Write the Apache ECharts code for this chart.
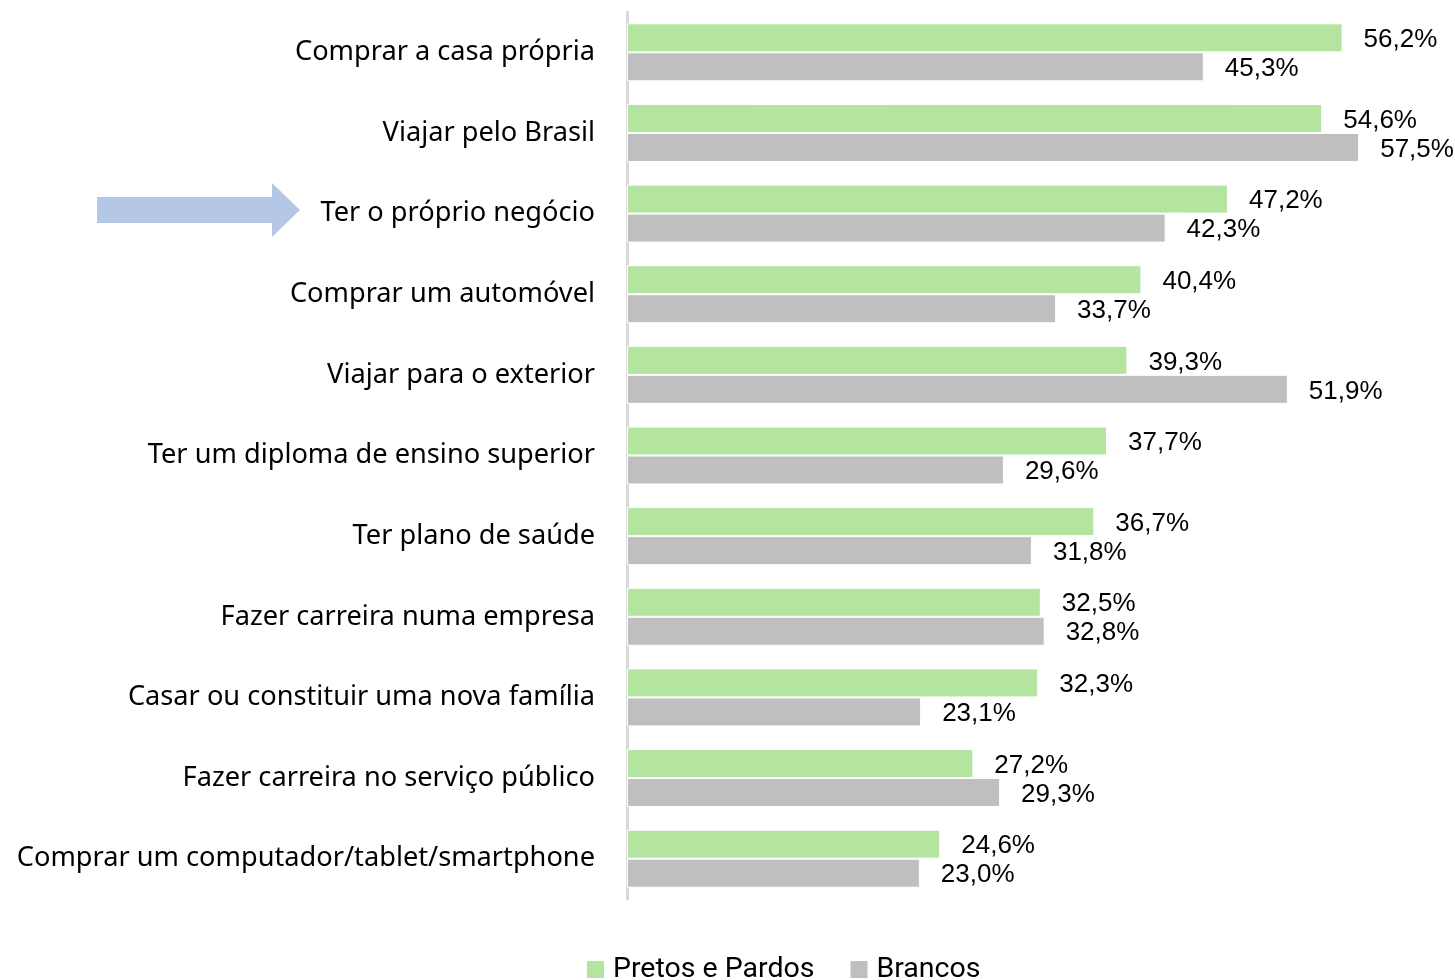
<!DOCTYPE html>
<html>
<head>
<meta charset="utf-8">
<script src="https://cdn.jsdelivr.net/npm/echarts@6/dist/echarts.min.js"></script>
<style>
  html, body { margin: 0; padding: 0; background: #fff; }
  #chart { width: 1455px; height: 980px; }
</style>
</head>
<body>
<div id="chart"></div>
<script>
// categories from top to bottom
var categories = [
  "Comprar a casa própria",
  "Viajar pelo Brasil",
  "Ter o próprio negócio",
  "Comprar um automóvel",
  "Viajar para o exterior",
  "Ter um diploma de ensino superior",
  "Ter plano de saúde",
  "Fazer carreira numa empresa",
  "Casar ou constituir uma nova família",
  "Fazer carreira no serviço público",
  "Comprar um computador/tablet/smartphone"
];
var pretosPardos = [56.2, 54.6, 47.2, 40.4, 39.3, 37.7, 36.7, 32.5, 32.3, 27.2, 24.6];
var brancos = [45.3, 57.5, 42.3, 33.7, 51.9, 29.6, 31.8, 32.8, 23.1, 29.3, 23.0];
var seriesNames = ["Pretos e Pardos", "Brancos"];

var chart = echarts.init(document.getElementById("chart"));

function fmt(p) {
  return p.value.toFixed(1).replace(".", ",") + "%";
}

var labelStyle = {
  show: true,
  position: "right",
  distance: 21,
  offset: [0, 2],
  formatter: fmt,
  color: "#000",
  fontSize: 26,
  fontFamily: "Liberation Sans, Arial, sans-serif"
};

chart.setOption({
  animation: false,
  grid: { left: 627, right: 64, top: 12, bottom: 81, containLabel: false },
  legend: {
    data: seriesNames,
    bottom: -9,
    left: 580,
    itemWidth: 19,
    itemHeight: 19,
    itemGap: 34,
    icon: "rect",
    textStyle: { fontSize: 28.5, color: "#000", fontFamily: "Roboto, sans-serif", padding: [0, 0, 0, 3] }
  },
  xAxis: {
    type: "value",
    min: 0,
    max: 60,
    show: false
  },
  yAxis: {
    type: "category",
    inverse: true,
    data: categories,
    axisLine: { show: true, lineStyle: { color: "#d9d9d9", width: 3 } },
    axisTick: { show: false },
    axisLabel: {
      margin: 32,
      color: "#000",
      fontSize: 27.2,
      fontFamily: "Noto Sans, sans-serif"
    }
  },
  series: [
    {
      name: seriesNames[0],
      type: "bar",
      data: pretosPardos,
      barWidth: 29,
      barGap: "0%",
      itemStyle: { color: "#b3e5a1", borderColor: "#fff", borderWidth: 1 },
      label: labelStyle
    },
    {
      name: seriesNames[1],
      type: "bar",
      data: brancos,
      barWidth: 29,
      itemStyle: { color: "#bfbfbf", borderColor: "#fff", borderWidth: 1 },
      label: labelStyle
    }
  ],
  graphic: [
    {
      type: "polygon",
      shape: {
        points: [[97, 197], [272, 197], [272, 183], [300, 210], [272, 237], [272, 223], [97, 223]]
      },
      style: { fill: "#b4c7e7" },
      z: 10
    }
  ]
});
</script>
</body>
</html>
